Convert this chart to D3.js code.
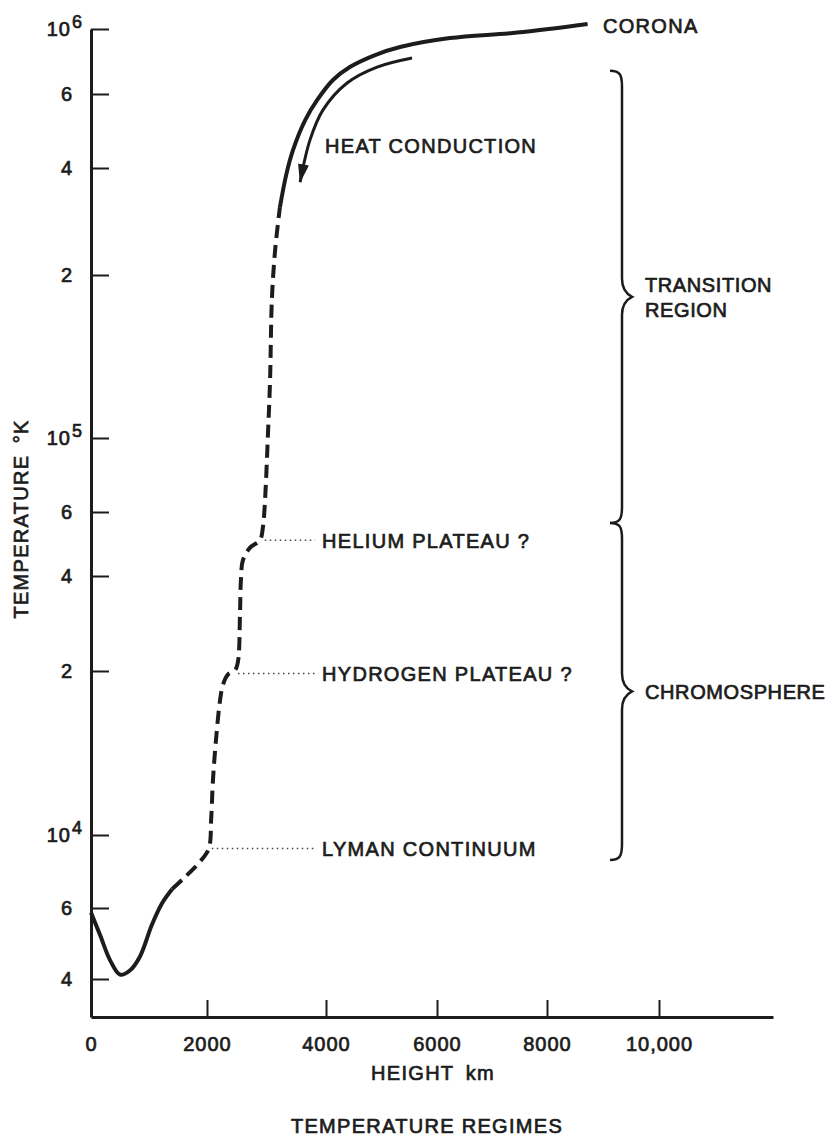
<!DOCTYPE html>
<html>
<head>
<meta charset="utf-8">
<script src="https://cdn.jsdelivr.net/npm/d3@7"></script>
<style>
body { margin: 0; background: #fff; }
text { font-family: "Liberation Sans", Arial, sans-serif; font-size: 20px; fill: #1c1c1c; stroke: #1c1c1c; stroke-width: 0.7px; }
</style>
</head>
<body>
<svg id="chart" width="833" height="1137"></svg>
<script>
// temperature profile, height in km and temperature in K
var lowHeight = [0, 155, 330, 500, 670, 845, 1050, 1225, 1400];
var lowTemp = [5850, 5150, 4450, 4100, 4200, 4550, 5450, 6200, 6850];

var midHeight = [1400, 1620, 1880, 2030, 2070, 2100, 2150, 2220, 2270, 2350, 2470, 2520, 2555, 2570, 2605, 2720, 2890, 2940, 2975, 3025, 3060, 3090, 3145, 3225];
var midTemp = [6850, 7450, 8300, 9100, 10700, 12600, 14900, 17700, 18900, 19700, 20100, 21400, 30500, 38800, 44300, 47800, 50200, 54500, 65000, 102000, 128000, 180000, 235000, 310000];

var topHeight = [3225, 3330, 3445, 3650, 3850, 4125, 4430, 4885, 5335, 6235, 7455, 8725];
var topTemp = [310000, 382000, 441000, 520000, 580000, 670000, 742000, 815000, 868000, 931000, 972000, 1040000];

// heat conduction arrow
var arrowHeight = [5550, 4920, 4380, 3950, 3730, 3565];
var arrowTemp = [796000, 741000, 654000, 550000, 466000, 365000];

// plateau marks
var markLabels = ["LYMAN CONTINUUM", "HYDROGEN PLATEAU ?", "HELIUM PLATEAU ?"];
var markHeight = [2030, 2470, 2920];
var markTemp = [9100, 19800, 50200];

// regimes (braces)
var regionNames = [["TRANSITION", "REGION"], ["CHROMOSPHERE"]];
var regionTop = [720000, 56000];
var regionBottom = [56000, 8400];

var xTicks = [0, 2000, 4000, 6000, 8000, 10000];
var yTicks = [4000, 6000, 1e4, 2e4, 4e4, 6e4, 1e5, 2e5, 4e5, 6e5, 1e6];

var svg = d3.select("#chart");

// the original axes are hand drawn, so both scales are piecewise
// and pinned to where the printed ticks sit
var x = d3.scaleLinear()
	.domain([0, 2000, 4000, 6000, 8000, 10000, 12000])
	.range([91, 207, 326, 437, 547, 659, 773]);

var y = d3.scaleLog()
	.domain([3220, 4000, 6000, 1e4, 2e4, 4e4, 6e4, 1e5, 2e5, 4e5, 6e5, 1e6])
	.range([1017, 979, 908, 835, 671, 576, 512, 438, 275, 168, 94, 29]);

var line = d3.line()
	.x(function(d) { return x(d[0]); })
	.y(function(d) { return y(d[1]); })
	.curve(d3.curveCatmullRom.alpha(0.5));

function pairs(hs, ts) {
	return hs.map(function(h, i) { return [h, ts[i]]; });
}

// axes
var xAxis = svg.append("g")
	.attr("transform", "translate(0,1017)")
	.call(d3.axisBottom(x)
		.tickValues(xTicks)
		.tickSizeInner(-17)
		.tickSizeOuter(0)
		.tickPadding(20)
		.tickFormat(function(d) { return d >= 10000 ? d3.format(",")(d) : d; }));

var yAxis = svg.append("g")
	.attr("transform", "translate(91,0)")
	.call(d3.axisLeft(y)
		.tickValues(yTicks)
		.tickSizeInner(-18)
		.tickSizeOuter(0)
		.tickPadding(18)
		.tickFormat(function(d) {
			var p = Math.log10(d);
			return Number.isInteger(p) ? "10" : String(Math.round(d / Math.pow(10, Math.floor(p))));
		}));

[xAxis, yAxis].forEach(function(g) {
	g.attr("font-family", null).attr("font-size", null);
	g.select(".domain").attr("stroke", "#1c1c1c").attr("stroke-width", 3);
	g.selectAll(".tick line").attr("stroke", "#1c1c1c").attr("stroke-width", 2);
	g.selectAll(".tick text").style("letter-spacing", "1px");
});
xAxis.selectAll(".tick").filter(function(d) { return d === 0; }).select("line").remove();

// powers of ten get a raised exponent
yAxis.selectAll(".tick")
	.filter(function(d) { return Number.isInteger(Math.log10(d)); })
	.select("text")
	.attr("x", -8)
	.append("tspan")
	.attr("dy", "-0.45em")
	.attr("dx", "1")
	.style("font-size", "18px")
	.text(function(d) { return Math.log10(d); });

// axis titles
svg.append("text")
	.attr("x", 433).attr("y", 1080)
	.attr("text-anchor", "middle")
	.style("letter-spacing", "1.3px")
	.text("HEIGHT\u2002km");

svg.append("text")
	.attr("x", 427).attr("y", 1133)
	.attr("text-anchor", "middle")
	.style("letter-spacing", "1.3px")
	.text("TEMPERATURE REGIMES");

svg.append("text")
	.attr("transform", "translate(28,519) rotate(-90)")
	.attr("text-anchor", "middle")
	.style("letter-spacing", "1.3px")
	.text("TEMPERATURE\u2002\u00b0K");

// plateau marks
markLabels.forEach(function(label, i) {
	var py = y(markTemp[i]);
	svg.append("line")
		.attr("x1", x(markHeight[i]) + 3).attr("x2", 315)
		.attr("y1", py).attr("y2", py)
		.attr("stroke", "#444")
		.attr("stroke-width", 1.5)
		.attr("stroke-dasharray", "1.5,3.5");
	svg.append("text")
		.attr("x", 322).attr("y", py + 8)
		.style("letter-spacing", "1.3px")
		.text(label);
});

// profile
svg.append("path")
	.datum(pairs(lowHeight, lowTemp))
	.attr("d", line)
	.attr("fill", "none").attr("stroke", "#1c1c1c").attr("stroke-width", 4);

svg.append("path")
	.datum(pairs(midHeight, midTemp))
	.attr("d", line)
	.attr("fill", "none").attr("stroke", "#1c1c1c").attr("stroke-width", 4)
	.attr("stroke-dasharray", "13,7");

svg.append("path")
	.datum(pairs(topHeight, topTemp))
	.attr("d", line)
	.attr("fill", "none").attr("stroke", "#1c1c1c").attr("stroke-width", 4);

svg.append("text")
	.attr("x", 603).attr("y", 33)
	.style("letter-spacing", "1.3px")
	.text("CORONA");

// heat conduction arrow
svg.append("defs").append("marker")
	.attr("id", "head")
	.attr("markerUnits", "userSpaceOnUse")
	.attr("markerWidth", 20).attr("markerHeight", 14)
	.attr("viewBox", "0 -7 20 14")
	.attr("refX", 18).attr("refY", 0)
	.attr("orient", "auto")
	.append("path")
	.attr("d", "M0,-5.5L19,0L0,5.5Z")
	.attr("fill", "#1c1c1c");

svg.append("path")
	.datum(pairs(arrowHeight, arrowTemp))
	.attr("d", line)
	.attr("fill", "none").attr("stroke", "#1c1c1c").attr("stroke-width", 3)
	.attr("marker-end", "url(#head)");

svg.append("text")
	.attr("x", 325).attr("y", 153)
	.style("letter-spacing", "1.3px")
	.text("HEAT CONDUCTION");

// braces
var braceX = 622;
function brace(bx, y0, y1) {
	var ym = (y0 + y1) / 2;
	return "M" + (bx - 12) + "," + y0 +
		"C" + (bx - 2) + "," + y0 + " " + bx + "," + (y0 + 4) + " " + bx + "," + (y0 + 16) +
		"L" + bx + "," + (ym - 18) +
		"C" + bx + "," + (ym - 6) + " " + (bx + 6) + "," + (ym - 2) + " " + (bx + 10) + "," + ym +
		"C" + (bx + 6) + "," + (ym + 2) + " " + bx + "," + (ym + 6) + " " + bx + "," + (ym + 18) +
		"L" + bx + "," + (y1 - 16) +
		"C" + bx + "," + (y1 - 4) + " " + (bx - 2) + "," + y1 + " " + (bx - 12) + "," + y1;
}

regionNames.forEach(function(lines, i) {
	var y0 = y(regionTop[i]), y1 = y(regionBottom[i]);
	svg.append("path")
		.attr("d", brace(braceX, y0, y1))
		.attr("fill", "none").attr("stroke", "#1c1c1c").attr("stroke-width", 2.5);
	var ym = (y0 + y1) / 2;
	var t = svg.append("text")
		.attr("x", 645)
		.attr("y", ym + 8 - (lines.length - 1) * 12.5)
		.style("letter-spacing", "0.6px");
	lines.forEach(function(s, k) {
		t.append("tspan").attr("x", 645).attr("dy", k ? 25 : 0).text(s);
	});
});
</script>
</body>
</html>
